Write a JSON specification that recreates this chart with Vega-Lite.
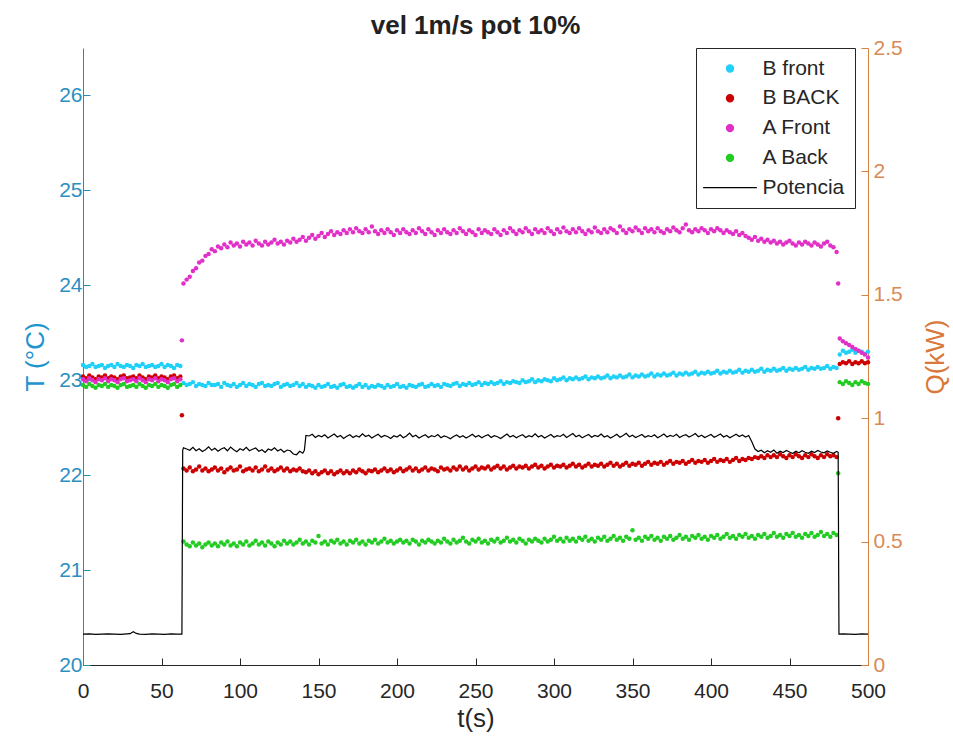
{
"$schema": "https://vega.github.io/schema/vega-lite/v6.json",
"width": 785, "height": 617,
"autosize": {"type": "none"},
"padding": {"left": 83, "top": 48, "right": 85, "bottom": 79},
"background": "white",
"title": {"text": "vel 1m/s pot 10%", "fontSize": 26, "font": "Liberation Sans", "fontWeight": "bold", "color": "#222222", "offset": -2, "anchor": "middle"},
"config": {"view": {"stroke": null}, "font": "Liberation Sans", "axis": {"grid": false}},
"datasets": {
"bf": [
{"t":0,"v":23.16},{"t":2,"v":23.14},{"t":4,"v":23.15},{"t":6,"v":23.17},{"t":8,"v":23.14},{"t":10,"v":23.15},{"t":12,"v":23.16},{"t":14,"v":23.13},{"t":16,"v":23.15},{"t":18,"v":23.16},{"t":20,"v":23.14},{"t":22,"v":23.17},{"t":24,"v":23.15},{"t":26,"v":23.14},{"t":28,"v":23.16},{"t":30,"v":23.15},{"t":32,"v":23.13},{"t":34,"v":23.16},{"t":36,"v":23.15},{"t":38,"v":23.17},{"t":40,"v":23.14},{"t":42,"v":23.15},{"t":44,"v":23.16},{"t":46,"v":23.14},{"t":48,"v":23.15},{"t":50,"v":23.17},{"t":52,"v":23.14},{"t":54,"v":23.16},{"t":56,"v":23.15},{"t":58,"v":23.13},{"t":60,"v":23.16},{"t":62,"v":23.15},
{"t":64,"v":22.97},{"t":66,"v":22.95},{"t":68,"v":22.96},{"t":70,"v":22.98},{"t":72,"v":22.94},{"t":74,"v":22.96},{"t":76,"v":22.95},{"t":78,"v":22.94},{"t":80,"v":22.97},{"t":82,"v":22.95},
{"t":84,"v":22.95},{"t":86,"v":22.96},{"t":88,"v":22.93},{"t":90,"v":22.97},{"t":92,"v":22.95},{"t":94,"v":22.94},{"t":96,"v":22.96},{"t":98,"v":22.93},{"t":100,"v":22.95},{"t":102,"v":22.97},
{"t":104,"v":22.94},{"t":106,"v":22.96},{"t":108,"v":22.95},{"t":110,"v":22.93},{"t":112,"v":22.96},{"t":114,"v":22.97},{"t":116,"v":22.94},{"t":118,"v":22.95},{"t":120,"v":22.94},{"t":122,"v":22.96},
{"t":124,"v":22.97},{"t":126,"v":22.93},{"t":128,"v":22.95},{"t":130,"v":22.96},{"t":132,"v":22.94},{"t":134,"v":22.95},{"t":136,"v":22.97},{"t":138,"v":22.94},{"t":140,"v":22.96},{"t":142,"v":22.93},
{"t":144,"v":22.95},{"t":146,"v":22.94},{"t":148,"v":22.92},{"t":150,"v":22.95},{"t":152,"v":22.93},{"t":154,"v":22.94},{"t":156,"v":22.96},{"t":158,"v":22.93},{"t":160,"v":22.94},{"t":162,"v":22.92},
{"t":164,"v":22.95},{"t":166,"v":22.96},{"t":168,"v":22.93},{"t":170,"v":22.94},{"t":172,"v":22.92},{"t":174,"v":22.94},{"t":176,"v":22.96},{"t":178,"v":22.93},{"t":180,"v":22.95},{"t":182,"v":22.92},
{"t":184,"v":22.94},{"t":186,"v":22.93},{"t":188,"v":22.95},{"t":190,"v":22.94},{"t":192,"v":22.92},{"t":194,"v":22.95},{"t":196,"v":22.93},{"t":198,"v":22.94},{"t":200,"v":22.96},{"t":202,"v":22.93},
{"t":204,"v":22.94},{"t":206,"v":22.92},{"t":208,"v":22.95},{"t":210,"v":22.94},{"t":212,"v":22.93},{"t":214,"v":22.95},{"t":216,"v":22.96},{"t":218,"v":22.93},{"t":220,"v":22.94},{"t":222,"v":22.96},
{"t":224,"v":22.94},{"t":226,"v":22.95},{"t":228,"v":22.93},{"t":230,"v":22.96},{"t":232,"v":22.95},{"t":234,"v":22.94},{"t":236,"v":22.96},{"t":238,"v":22.97},{"t":240,"v":22.94},{"t":242,"v":22.96},
{"t":244,"v":22.95},{"t":246,"v":22.97},{"t":248,"v":22.95},{"t":250,"v":22.96},{"t":252,"v":22.98},{"t":254,"v":22.95},{"t":256,"v":22.97},{"t":258,"v":22.96},{"t":260,"v":22.98},{"t":262,"v":22.96},
{"t":264,"v":22.97},{"t":266,"v":22.99},{"t":268,"v":22.96},{"t":270,"v":22.98},{"t":272,"v":22.97},{"t":274,"v":22.99},{"t":276,"v":22.98},{"t":278,"v":22.97},{"t":280,"v":23.00},{"t":282,"v":22.98},
{"t":284,"v":22.99},{"t":286,"v":23.01},{"t":288,"v":22.98},{"t":290,"v":23.00},{"t":292,"v":22.99},{"t":294,"v":23.01},{"t":296,"v":23.00},{"t":298,"v":22.99},{"t":300,"v":23.02},{"t":302,"v":23.00},
{"t":304,"v":23.01},{"t":306,"v":23.03},{"t":308,"v":23.00},{"t":310,"v":23.02},{"t":312,"v":23.01},{"t":314,"v":23.03},{"t":316,"v":23.01},{"t":318,"v":23.02},{"t":320,"v":23.04},{"t":322,"v":23.01},
{"t":324,"v":23.03},{"t":326,"v":23.02},{"t":328,"v":23.04},{"t":330,"v":23.02},{"t":332,"v":23.03},{"t":334,"v":23.05},{"t":336,"v":23.02},{"t":338,"v":23.04},{"t":340,"v":23.03},{"t":342,"v":23.05},
{"t":344,"v":23.03},{"t":346,"v":23.04},{"t":348,"v":23.06},{"t":350,"v":23.03},{"t":352,"v":23.05},{"t":354,"v":23.04},{"t":356,"v":23.06},{"t":358,"v":23.04},{"t":360,"v":23.05},{"t":362,"v":23.07},
{"t":364,"v":23.04},{"t":366,"v":23.06},{"t":368,"v":23.05},{"t":370,"v":23.07},{"t":372,"v":23.05},{"t":374,"v":23.06},{"t":376,"v":23.08},{"t":378,"v":23.05},{"t":380,"v":23.07},{"t":382,"v":23.06},
{"t":384,"v":23.08},{"t":386,"v":23.06},{"t":388,"v":23.07},{"t":390,"v":23.09},{"t":392,"v":23.06},{"t":394,"v":23.08},{"t":396,"v":23.07},{"t":398,"v":23.09},{"t":400,"v":23.07},{"t":402,"v":23.08},
{"t":404,"v":23.10},{"t":406,"v":23.07},{"t":408,"v":23.09},{"t":410,"v":23.08},{"t":412,"v":23.10},{"t":414,"v":23.08},{"t":416,"v":23.09},{"t":418,"v":23.11},{"t":420,"v":23.08},{"t":422,"v":23.10},
{"t":424,"v":23.09},{"t":426,"v":23.11},{"t":428,"v":23.09},{"t":430,"v":23.10},{"t":432,"v":23.12},{"t":434,"v":23.09},{"t":436,"v":23.11},{"t":438,"v":23.10},{"t":440,"v":23.12},{"t":442,"v":23.10},
{"t":444,"v":23.11},{"t":446,"v":23.13},{"t":448,"v":23.10},{"t":450,"v":23.12},{"t":452,"v":23.11},{"t":454,"v":23.13},{"t":456,"v":23.11},{"t":458,"v":23.12},{"t":460,"v":23.14},{"t":462,"v":23.11},
{"t":464,"v":23.13},{"t":466,"v":23.12},{"t":468,"v":23.14},{"t":470,"v":23.12},{"t":472,"v":23.13},{"t":474,"v":23.15},{"t":476,"v":23.12},{"t":478,"v":23.14},{"t":480,"v":23.13},
{"t":482,"v":23.27},{"t":484,"v":23.31},{"t":486,"v":23.29},{"t":488,"v":23.30},{"t":490,"v":23.32},{"t":492,"v":23.29},{"t":494,"v":23.31},{"t":496,"v":23.30},{"t":498,"v":23.28},{"t":500,"v":23.30}
],
"bb": [
{"t":0,"v":23.04},{"t":2,"v":23.02},{"t":4,"v":23.05},{"t":6,"v":23.03},{"t":8,"v":23.01},{"t":10,"v":23.04},{"t":12,"v":23.03},{"t":14,"v":23.05},{"t":16,"v":23.02},{"t":18,"v":23.04},{"t":20,"v":23.03},{"t":22,"v":23.01},{"t":24,"v":23.04},{"t":26,"v":23.05},{"t":28,"v":23.02},{"t":30,"v":23.03},{"t":32,"v":23.04},{"t":34,"v":23.02},{"t":36,"v":23.05},{"t":38,"v":23.03},{"t":40,"v":23.01},{"t":42,"v":23.04},{"t":44,"v":23.03},{"t":46,"v":23.05},{"t":48,"v":23.02},{"t":50,"v":23.04},{"t":52,"v":23.03},{"t":54,"v":23.01},{"t":56,"v":23.04},{"t":58,"v":23.05},{"t":60,"v":23.02},{"t":62,"v":23.04},
{"t":63,"v":22.63},
{"t":64,"v":22.07},{"t":66,"v":22.05},{"t":68,"v":22.08},{"t":70,"v":22.04},{"t":72,"v":22.06},{"t":74,"v":22.09},{"t":76,"v":22.05},{"t":78,"v":22.07},{"t":80,"v":22.04},{"t":82,"v":22.06},
{"t":84,"v":22.08},{"t":86,"v":22.05},{"t":88,"v":22.07},{"t":90,"v":22.03},{"t":92,"v":22.06},{"t":94,"v":22.08},{"t":96,"v":22.05},{"t":98,"v":22.06},{"t":100,"v":22.09},{"t":102,"v":22.04},
{"t":104,"v":22.06},{"t":106,"v":22.07},{"t":108,"v":22.05},{"t":110,"v":22.08},{"t":112,"v":22.04},{"t":114,"v":22.06},{"t":116,"v":22.09},{"t":118,"v":22.05},{"t":120,"v":22.07},{"t":122,"v":22.04},
{"t":124,"v":22.06},{"t":126,"v":22.08},{"t":128,"v":22.05},{"t":130,"v":22.07},{"t":132,"v":22.04},{"t":134,"v":22.06},{"t":136,"v":22.05},{"t":138,"v":22.07},{"t":140,"v":22.04},{"t":142,"v":22.03},
{"t":144,"v":22.05},{"t":146,"v":22.02},{"t":148,"v":22.04},{"t":150,"v":22.01},{"t":152,"v":22.03},{"t":154,"v":22.05},{"t":156,"v":22.02},{"t":158,"v":22.04},{"t":160,"v":22.01},{"t":162,"v":22.03},
{"t":164,"v":22.05},{"t":166,"v":22.02},{"t":168,"v":22.04},{"t":170,"v":22.02},{"t":172,"v":22.05},{"t":174,"v":22.03},{"t":176,"v":22.06},{"t":178,"v":22.04},{"t":180,"v":22.02},{"t":182,"v":22.05},
{"t":184,"v":22.04},{"t":186,"v":22.06},{"t":188,"v":22.03},{"t":190,"v":22.05},{"t":192,"v":22.07},{"t":194,"v":22.04},{"t":196,"v":22.06},{"t":198,"v":22.03},{"t":200,"v":22.05},{"t":202,"v":22.07},
{"t":204,"v":22.04},{"t":206,"v":22.06},{"t":208,"v":22.08},{"t":210,"v":22.05},{"t":212,"v":22.07},{"t":214,"v":22.04},{"t":216,"v":22.06},{"t":218,"v":22.08},{"t":220,"v":22.05},{"t":222,"v":22.07},
{"t":224,"v":22.06},{"t":226,"v":22.04},{"t":228,"v":22.08},{"t":230,"v":22.06},{"t":232,"v":22.07},{"t":234,"v":22.05},{"t":236,"v":22.08},{"t":238,"v":22.06},{"t":240,"v":22.09},{"t":242,"v":22.06},
{"t":244,"v":22.08},{"t":246,"v":22.05},{"t":248,"v":22.07},{"t":250,"v":22.09},{"t":252,"v":22.06},{"t":254,"v":22.08},{"t":256,"v":22.07},{"t":258,"v":22.09},{"t":260,"v":22.06},{"t":262,"v":22.08},
{"t":264,"v":22.10},{"t":266,"v":22.07},{"t":268,"v":22.09},{"t":270,"v":22.06},{"t":272,"v":22.08},{"t":274,"v":22.10},{"t":276,"v":22.07},{"t":278,"v":22.09},{"t":280,"v":22.08},{"t":282,"v":22.10},
{"t":284,"v":22.07},{"t":286,"v":22.09},{"t":288,"v":22.11},{"t":290,"v":22.08},{"t":292,"v":22.10},{"t":294,"v":22.07},{"t":296,"v":22.09},{"t":298,"v":22.11},{"t":300,"v":22.08},{"t":302,"v":22.10},
{"t":304,"v":22.09},{"t":306,"v":22.11},{"t":308,"v":22.08},{"t":310,"v":22.10},{"t":312,"v":22.12},{"t":314,"v":22.09},{"t":316,"v":22.11},{"t":318,"v":22.08},{"t":320,"v":22.10},{"t":322,"v":22.12},
{"t":324,"v":22.09},{"t":326,"v":22.11},{"t":328,"v":22.10},{"t":330,"v":22.12},{"t":332,"v":22.09},{"t":334,"v":22.11},{"t":336,"v":22.13},{"t":338,"v":22.10},{"t":340,"v":22.12},{"t":342,"v":22.09},
{"t":344,"v":22.11},{"t":346,"v":22.13},{"t":348,"v":22.10},{"t":350,"v":22.12},{"t":352,"v":22.11},{"t":354,"v":22.13},{"t":356,"v":22.10},{"t":358,"v":22.12},{"t":360,"v":22.14},{"t":362,"v":22.11},
{"t":364,"v":22.13},{"t":366,"v":22.12},{"t":368,"v":22.14},{"t":370,"v":22.11},{"t":372,"v":22.13},{"t":374,"v":22.15},{"t":376,"v":22.12},{"t":378,"v":22.14},{"t":380,"v":22.13},{"t":382,"v":22.15},
{"t":384,"v":22.12},{"t":386,"v":22.14},{"t":388,"v":22.16},{"t":390,"v":22.13},{"t":392,"v":22.15},{"t":394,"v":22.14},{"t":396,"v":22.16},{"t":398,"v":22.13},{"t":400,"v":22.15},{"t":402,"v":22.17},
{"t":404,"v":22.14},{"t":406,"v":22.16},{"t":408,"v":22.15},{"t":410,"v":22.17},{"t":412,"v":22.14},{"t":414,"v":22.16},{"t":416,"v":22.18},{"t":418,"v":22.15},{"t":420,"v":22.17},{"t":422,"v":22.16},
{"t":424,"v":22.18},{"t":426,"v":22.17},{"t":428,"v":22.19},{"t":430,"v":22.18},{"t":432,"v":22.20},{"t":434,"v":22.18},{"t":436,"v":22.21},{"t":438,"v":22.19},{"t":440,"v":22.21},{"t":442,"v":22.19},
{"t":444,"v":22.22},{"t":446,"v":22.20},{"t":448,"v":22.18},{"t":450,"v":22.21},{"t":452,"v":22.19},{"t":454,"v":22.22},{"t":456,"v":22.20},{"t":458,"v":22.18},{"t":460,"v":22.21},{"t":462,"v":22.19},
{"t":464,"v":22.22},{"t":466,"v":22.20},{"t":468,"v":22.18},{"t":470,"v":22.21},{"t":472,"v":22.19},{"t":474,"v":22.22},{"t":476,"v":22.20},{"t":478,"v":22.21},{"t":480,"v":22.19},
{"t":481,"v":22.60},
{"t":482,"v":23.17},{"t":484,"v":23.19},{"t":486,"v":23.18},{"t":488,"v":23.20},{"t":490,"v":23.17},{"t":492,"v":23.19},{"t":494,"v":23.18},{"t":496,"v":23.20},{"t":498,"v":23.18},{"t":500,"v":23.19}
],
"af": [
{"t":0,"v":23.01},{"t":2,"v":22.99},{"t":4,"v":23.02},{"t":6,"v":23.00},{"t":8,"v":22.98},{"t":10,"v":23.01},{"t":12,"v":23.00},{"t":14,"v":23.02},{"t":16,"v":22.99},{"t":18,"v":23.01},{"t":20,"v":23.00},{"t":22,"v":22.98},{"t":24,"v":23.01},{"t":26,"v":23.02},{"t":28,"v":22.99},{"t":30,"v":23.00},{"t":32,"v":23.01},{"t":34,"v":22.99},{"t":36,"v":23.02},{"t":38,"v":23.00},{"t":40,"v":22.98},{"t":42,"v":23.01},{"t":44,"v":23.00},{"t":46,"v":23.02},{"t":48,"v":22.99},{"t":50,"v":23.01},{"t":52,"v":23.00},{"t":54,"v":22.98},{"t":56,"v":23.01},{"t":58,"v":23.02},{"t":60,"v":22.99},{"t":62,"v":23.01},
{"t":63,"v":23.42},
{"t":64,"v":24.02},{"t":66,"v":24.06},{"t":68,"v":24.09},{"t":70,"v":24.15},{"t":72,"v":24.18},{"t":74,"v":24.24},{"t":76,"v":24.26},{"t":78,"v":24.31},{"t":80,"v":24.33},{"t":82,"v":24.38},
{"t":84,"v":24.36},{"t":86,"v":24.41},{"t":88,"v":24.39},{"t":90,"v":24.43},{"t":92,"v":24.40},{"t":94,"v":24.45},{"t":96,"v":24.42},{"t":98,"v":24.44},{"t":100,"v":24.41},{"t":102,"v":24.46},
{"t":104,"v":24.43},{"t":106,"v":24.45},{"t":108,"v":24.42},{"t":110,"v":24.47},{"t":112,"v":24.44},{"t":114,"v":24.42},{"t":116,"v":24.46},{"t":118,"v":24.43},{"t":120,"v":24.45},{"t":122,"v":24.48},
{"t":124,"v":24.44},{"t":126,"v":24.46},{"t":128,"v":24.43},{"t":130,"v":24.47},{"t":132,"v":24.45},{"t":134,"v":24.49},{"t":136,"v":24.46},{"t":138,"v":24.48},{"t":140,"v":24.51},{"t":142,"v":24.47},
{"t":144,"v":24.50},{"t":146,"v":24.53},{"t":148,"v":24.49},{"t":150,"v":24.52},{"t":152,"v":24.55},{"t":154,"v":24.51},{"t":156,"v":24.54},{"t":158,"v":24.57},{"t":160,"v":24.53},{"t":162,"v":24.56},
{"t":164,"v":24.54},{"t":166,"v":24.58},{"t":168,"v":24.55},{"t":170,"v":24.59},{"t":172,"v":24.56},{"t":174,"v":24.60},{"t":176,"v":24.57},{"t":178,"v":24.55},{"t":180,"v":24.59},{"t":182,"v":24.56},
{"t":184,"v":24.62},{"t":186,"v":24.57},{"t":188,"v":24.54},{"t":190,"v":24.58},{"t":192,"v":24.55},{"t":194,"v":24.59},{"t":196,"v":24.56},{"t":198,"v":24.53},{"t":200,"v":24.58},{"t":202,"v":24.55},
{"t":204,"v":24.59},{"t":206,"v":24.56},{"t":208,"v":24.54},{"t":210,"v":24.58},{"t":212,"v":24.55},{"t":214,"v":24.60},{"t":216,"v":24.57},{"t":218,"v":24.54},{"t":220,"v":24.59},{"t":222,"v":24.56},
{"t":224,"v":24.53},{"t":226,"v":24.58},{"t":228,"v":24.55},{"t":230,"v":24.59},{"t":232,"v":24.56},{"t":234,"v":24.54},{"t":236,"v":24.58},{"t":238,"v":24.55},{"t":240,"v":24.60},{"t":242,"v":24.57},
{"t":244,"v":24.54},{"t":246,"v":24.58},{"t":248,"v":24.56},{"t":250,"v":24.53},{"t":252,"v":24.59},{"t":254,"v":24.55},{"t":256,"v":24.58},{"t":258,"v":24.56},{"t":260,"v":24.54},{"t":262,"v":24.59},
{"t":264,"v":24.56},{"t":266,"v":24.53},{"t":268,"v":24.58},{"t":270,"v":24.55},{"t":272,"v":24.60},{"t":274,"v":24.57},{"t":276,"v":24.54},{"t":278,"v":24.58},{"t":280,"v":24.56},{"t":282,"v":24.60},
{"t":284,"v":24.57},{"t":286,"v":24.54},{"t":288,"v":24.59},{"t":290,"v":24.56},{"t":292,"v":24.58},{"t":294,"v":24.55},{"t":296,"v":24.60},{"t":298,"v":24.57},{"t":300,"v":24.54},{"t":302,"v":24.59},
{"t":304,"v":24.56},{"t":306,"v":24.61},{"t":308,"v":24.57},{"t":310,"v":24.55},{"t":312,"v":24.59},{"t":314,"v":24.56},{"t":316,"v":24.60},{"t":318,"v":24.57},{"t":320,"v":24.54},{"t":322,"v":24.58},
{"t":324,"v":24.56},{"t":326,"v":24.61},{"t":328,"v":24.57},{"t":330,"v":24.55},{"t":332,"v":24.59},{"t":334,"v":24.56},{"t":336,"v":24.60},{"t":338,"v":24.58},{"t":340,"v":24.55},{"t":342,"v":24.62},
{"t":344,"v":24.58},{"t":346,"v":24.55},{"t":348,"v":24.59},{"t":350,"v":24.57},{"t":352,"v":24.61},{"t":354,"v":24.58},{"t":356,"v":24.55},{"t":358,"v":24.60},{"t":360,"v":24.57},{"t":362,"v":24.59},
{"t":364,"v":24.56},{"t":366,"v":24.60},{"t":368,"v":24.57},{"t":370,"v":24.55},{"t":372,"v":24.59},{"t":374,"v":24.57},{"t":376,"v":24.61},{"t":378,"v":24.58},{"t":380,"v":24.56},{"t":382,"v":24.60},
{"t":384,"v":24.64},{"t":386,"v":24.58},{"t":388,"v":24.56},{"t":390,"v":24.59},{"t":392,"v":24.57},{"t":394,"v":24.60},{"t":396,"v":24.58},{"t":398,"v":24.55},{"t":400,"v":24.59},{"t":402,"v":24.57},
{"t":404,"v":24.60},{"t":406,"v":24.58},{"t":408,"v":24.55},{"t":410,"v":24.58},{"t":412,"v":24.56},{"t":414,"v":24.54},{"t":416,"v":24.57},{"t":418,"v":24.53},{"t":420,"v":24.55},{"t":422,"v":24.52},
{"t":424,"v":24.50},{"t":426,"v":24.48},{"t":428,"v":24.51},{"t":430,"v":24.47},{"t":432,"v":24.49},{"t":434,"v":24.46},{"t":436,"v":24.48},{"t":438,"v":24.45},{"t":440,"v":24.47},{"t":442,"v":24.44},
{"t":444,"v":24.46},{"t":446,"v":24.43},{"t":448,"v":24.45},{"t":450,"v":24.47},{"t":452,"v":24.44},{"t":454,"v":24.42},{"t":456,"v":24.45},{"t":458,"v":24.43},{"t":460,"v":24.46},{"t":462,"v":24.44},
{"t":464,"v":24.42},{"t":466,"v":24.45},{"t":468,"v":24.43},{"t":470,"v":24.41},{"t":472,"v":24.44},{"t":474,"v":24.46},{"t":476,"v":24.42},{"t":478,"v":24.40},{"t":480,"v":24.35},
{"t":481,"v":24.02},
{"t":482,"v":23.44},{"t":484,"v":23.41},{"t":486,"v":23.39},{"t":488,"v":23.37},{"t":490,"v":23.35},{"t":492,"v":23.33},{"t":494,"v":23.31},{"t":496,"v":23.29},{"t":498,"v":23.27},{"t":500,"v":23.24}
],
"ab": [
{"t":0,"v":22.95},{"t":2,"v":22.93},{"t":4,"v":22.96},{"t":6,"v":22.94},{"t":8,"v":22.92},{"t":10,"v":22.95},{"t":12,"v":22.94},{"t":14,"v":22.96},{"t":16,"v":22.93},{"t":18,"v":22.95},{"t":20,"v":22.94},{"t":22,"v":22.92},{"t":24,"v":22.95},{"t":26,"v":22.96},{"t":28,"v":22.93},{"t":30,"v":22.94},{"t":32,"v":22.95},{"t":34,"v":22.93},{"t":36,"v":22.96},{"t":38,"v":22.94},{"t":40,"v":22.92},{"t":42,"v":22.95},{"t":44,"v":22.94},{"t":46,"v":22.96},{"t":48,"v":22.93},{"t":50,"v":22.95},{"t":52,"v":22.94},{"t":54,"v":22.92},{"t":56,"v":22.95},{"t":58,"v":22.96},{"t":60,"v":22.93},{"t":62,"v":22.95},
{"t":64,"v":21.30},{"t":66,"v":21.27},{"t":68,"v":21.25},{"t":70,"v":21.29},{"t":72,"v":21.26},{"t":74,"v":21.28},{"t":76,"v":21.24},{"t":78,"v":21.27},{"t":80,"v":21.29},{"t":82,"v":21.26},
{"t":84,"v":21.28},{"t":86,"v":21.25},{"t":88,"v":21.29},{"t":90,"v":21.27},{"t":92,"v":21.30},{"t":94,"v":21.26},{"t":96,"v":21.28},{"t":98,"v":21.25},{"t":100,"v":21.29},{"t":102,"v":21.27},
{"t":104,"v":21.30},{"t":106,"v":21.26},{"t":108,"v":21.28},{"t":110,"v":21.31},{"t":112,"v":21.27},{"t":114,"v":21.29},{"t":116,"v":21.26},{"t":118,"v":21.30},{"t":120,"v":21.28},{"t":122,"v":21.25},
{"t":124,"v":21.29},{"t":126,"v":21.27},{"t":128,"v":21.31},{"t":130,"v":21.28},{"t":132,"v":21.30},{"t":134,"v":21.27},{"t":136,"v":21.29},{"t":138,"v":21.32},{"t":140,"v":21.28},{"t":142,"v":21.30},
{"t":144,"v":21.27},{"t":146,"v":21.31},{"t":148,"v":21.29},{"t":150,"v":21.36},{"t":152,"v":21.28},{"t":154,"v":21.30},{"t":156,"v":21.27},{"t":158,"v":21.31},{"t":160,"v":21.29},{"t":162,"v":21.32},
{"t":164,"v":21.28},{"t":166,"v":21.30},{"t":168,"v":21.27},{"t":170,"v":21.31},{"t":172,"v":21.29},{"t":174,"v":21.32},{"t":176,"v":21.28},{"t":178,"v":21.30},{"t":180,"v":21.27},{"t":182,"v":21.31},
{"t":184,"v":21.29},{"t":186,"v":21.32},{"t":188,"v":21.28},{"t":190,"v":21.30},{"t":192,"v":21.33},{"t":194,"v":21.29},{"t":196,"v":21.31},{"t":198,"v":21.28},{"t":200,"v":21.30},{"t":202,"v":21.32},
{"t":204,"v":21.29},{"t":206,"v":21.31},{"t":208,"v":21.28},{"t":210,"v":21.32},{"t":212,"v":21.30},{"t":214,"v":21.27},{"t":216,"v":21.31},{"t":218,"v":21.29},{"t":220,"v":21.32},{"t":222,"v":21.30},
{"t":224,"v":21.28},{"t":226,"v":21.31},{"t":228,"v":21.29},{"t":230,"v":21.33},{"t":232,"v":21.30},{"t":234,"v":21.28},{"t":236,"v":21.32},{"t":238,"v":21.29},{"t":240,"v":21.31},{"t":242,"v":21.34},
{"t":244,"v":21.30},{"t":246,"v":21.28},{"t":248,"v":21.32},{"t":250,"v":21.30},{"t":252,"v":21.33},{"t":254,"v":21.29},{"t":256,"v":21.31},{"t":258,"v":21.28},{"t":260,"v":21.32},{"t":262,"v":21.30},
{"t":264,"v":21.33},{"t":266,"v":21.29},{"t":268,"v":21.31},{"t":270,"v":21.34},{"t":272,"v":21.30},{"t":274,"v":21.32},{"t":276,"v":21.29},{"t":278,"v":21.33},{"t":280,"v":21.31},{"t":282,"v":21.28},
{"t":284,"v":21.32},{"t":286,"v":21.30},{"t":288,"v":21.33},{"t":290,"v":21.31},{"t":292,"v":21.29},{"t":294,"v":21.33},{"t":296,"v":21.30},{"t":298,"v":21.32},{"t":300,"v":21.35},{"t":302,"v":21.31},
{"t":304,"v":21.33},{"t":306,"v":21.30},{"t":308,"v":21.34},{"t":310,"v":21.31},{"t":312,"v":21.33},{"t":314,"v":21.30},{"t":316,"v":21.34},{"t":318,"v":21.32},{"t":320,"v":21.35},{"t":322,"v":21.31},
{"t":324,"v":21.33},{"t":326,"v":21.30},{"t":328,"v":21.34},{"t":330,"v":21.32},{"t":332,"v":21.35},{"t":334,"v":21.31},{"t":336,"v":21.33},{"t":338,"v":21.36},{"t":340,"v":21.32},{"t":342,"v":21.34},
{"t":344,"v":21.31},{"t":346,"v":21.35},{"t":348,"v":21.33},{"t":350,"v":21.42},{"t":352,"v":21.32},{"t":354,"v":21.34},{"t":356,"v":21.31},{"t":358,"v":21.35},{"t":360,"v":21.33},{"t":362,"v":21.36},
{"t":364,"v":21.32},{"t":366,"v":21.34},{"t":368,"v":21.31},{"t":370,"v":21.35},{"t":372,"v":21.33},{"t":374,"v":21.36},{"t":376,"v":21.32},{"t":378,"v":21.34},{"t":380,"v":21.37},{"t":382,"v":21.33},
{"t":384,"v":21.35},{"t":386,"v":21.32},{"t":388,"v":21.36},{"t":390,"v":21.34},{"t":392,"v":21.37},{"t":394,"v":21.33},{"t":396,"v":21.35},{"t":398,"v":21.32},{"t":400,"v":21.36},{"t":402,"v":21.34},
{"t":404,"v":21.37},{"t":406,"v":21.33},{"t":408,"v":21.35},{"t":410,"v":21.38},{"t":412,"v":21.34},{"t":414,"v":21.36},{"t":416,"v":21.33},{"t":418,"v":21.37},{"t":420,"v":21.35},{"t":422,"v":21.38},
{"t":424,"v":21.34},{"t":426,"v":21.36},{"t":428,"v":21.33},{"t":430,"v":21.37},{"t":432,"v":21.35},{"t":434,"v":21.38},{"t":436,"v":21.34},{"t":438,"v":21.36},{"t":440,"v":21.39},{"t":442,"v":21.35},
{"t":444,"v":21.37},{"t":446,"v":21.34},{"t":448,"v":21.38},{"t":450,"v":21.36},{"t":452,"v":21.39},{"t":454,"v":21.35},{"t":456,"v":21.37},{"t":458,"v":21.34},{"t":460,"v":21.38},{"t":462,"v":21.36},
{"t":464,"v":21.39},{"t":466,"v":21.35},{"t":468,"v":21.37},{"t":470,"v":21.40},{"t":472,"v":21.36},{"t":474,"v":21.38},{"t":476,"v":21.35},{"t":478,"v":21.39},{"t":480,"v":21.37},
{"t":481,"v":22.02},
{"t":482,"v":22.98},{"t":484,"v":22.96},{"t":486,"v":22.99},{"t":488,"v":22.97},{"t":490,"v":22.95},{"t":492,"v":22.98},{"t":494,"v":22.96},{"t":496,"v":22.99},{"t":498,"v":22.97},{"t":500,"v":22.96}
],
"pw": [
{"t":0,"q":0.125},{"t":4,"q":0.126},{"t":8,"q":0.124},{"t":12,"q":0.125},{"t":16,"q":0.126},{"t":20,"q":0.125},{"t":24,"q":0.124},{"t":28,"q":0.126},{"t":30,"q":0.127},{"t":32,"q":0.135},{"t":34,"q":0.128},{"t":36,"q":0.125},{"t":40,"q":0.124},{"t":44,"q":0.126},{"t":48,"q":0.125},{"t":52,"q":0.124},{"t":56,"q":0.126},{"t":60,"q":0.125},{"t":63,"q":0.125},{"t":63.5,"q":0.87},
{"t":64,"q":0.88},{"t":66,"q":0.875},{"t":68,"q":0.87},{"t":70,"q":0.882},{"t":72,"q":0.868},{"t":74,"q":0.876},{"t":76,"q":0.865},{"t":78,"q":0.872},{"t":80,"q":0.884},{"t":82,"q":0.87},{"t":84,"q":0.878},{"t":86,"q":0.866},{"t":88,"q":0.875},{"t":90,"q":0.88},{"t":92,"q":0.868},{"t":94,"q":0.883},{"t":96,"q":0.872},{"t":98,"q":0.864},{"t":100,"q":0.876},{"t":102,"q":0.87},{"t":104,"q":0.882},{"t":106,"q":0.868},{"t":108,"q":0.874},{"t":110,"q":0.879},{"t":112,"q":0.866},{"t":114,"q":0.872},{"t":116,"q":0.861},{"t":118,"q":0.875},{"t":120,"q":0.87},{"t":122,"q":0.88},{"t":124,"q":0.867},{"t":126,"q":0.874},{"t":128,"q":0.862},{"t":130,"q":0.871},{"t":132,"q":0.868},{"t":134,"q":0.855},{"t":136,"q":0.852},{"t":138,"q":0.866},{"t":140,"q":0.858},{"t":141,"q":0.87},{"t":142,"q":0.93},
{"t":144,"q":0.928},{"t":146,"q":0.935},{"t":148,"q":0.922},{"t":150,"q":0.93},{"t":152,"q":0.925},{"t":154,"q":0.933},{"t":156,"q":0.92},{"t":158,"q":0.928},{"t":160,"q":0.936},{"t":162,"q":0.924},{"t":164,"q":0.93},{"t":166,"q":0.918},{"t":168,"q":0.927},{"t":170,"q":0.933},{"t":172,"q":0.922},{"t":174,"q":0.929},{"t":176,"q":0.924},{"t":178,"q":0.937},{"t":180,"q":0.926},{"t":182,"q":0.931},{"t":184,"q":0.92},{"t":186,"q":0.928},{"t":188,"q":0.935},{"t":190,"q":0.923},{"t":192,"q":0.93},{"t":194,"q":0.926},{"t":196,"q":0.918},{"t":198,"q":0.929},{"t":200,"q":0.924},{"t":202,"q":0.933},{"t":204,"q":0.921},{"t":206,"q":0.928},{"t":208,"q":0.94},{"t":210,"q":0.925},{"t":212,"q":0.931},{"t":214,"q":0.92},{"t":216,"q":0.927},{"t":218,"q":0.933},{"t":220,"q":0.922},{"t":222,"q":0.929},{"t":224,"q":0.925},{"t":226,"q":0.934},{"t":228,"q":0.921},{"t":230,"q":0.928},{"t":232,"q":0.924},{"t":234,"q":0.917},{"t":236,"q":0.926},{"t":238,"q":0.932},{"t":240,"q":0.923},{"t":242,"q":0.929},{"t":244,"q":0.92},{"t":246,"q":0.927},{"t":248,"q":0.935},{"t":250,"q":0.924},{"t":252,"q":0.93},{"t":254,"q":0.921},{"t":256,"q":0.928},{"t":258,"q":0.933},{"t":260,"q":0.922},{"t":262,"q":0.929},{"t":264,"q":0.925},{"t":266,"q":0.918},{"t":268,"q":0.927},{"t":270,"q":0.936},{"t":272,"q":0.924},{"t":274,"q":0.93},{"t":276,"q":0.921},{"t":278,"q":0.928},{"t":280,"q":0.933},{"t":282,"q":0.922},{"t":284,"q":0.929},{"t":286,"q":0.925},{"t":288,"q":0.937},{"t":290,"q":0.924},{"t":292,"q":0.93},{"t":294,"q":0.92},{"t":296,"q":0.927},{"t":298,"q":0.934},{"t":300,"q":0.923},{"t":302,"q":0.929},{"t":304,"q":0.926},{"t":306,"q":0.935},{"t":308,"q":0.922},{"t":310,"q":0.93},{"t":312,"q":0.938},{"t":314,"q":0.925},{"t":316,"q":0.931},{"t":318,"q":0.921},{"t":320,"q":0.928},{"t":322,"q":0.934},{"t":324,"q":0.923},{"t":326,"q":0.93},{"t":328,"q":0.926},{"t":330,"q":0.936},{"t":332,"q":0.924},{"t":334,"q":0.929},{"t":336,"q":0.92},{"t":338,"q":0.927},{"t":340,"q":0.935},{"t":342,"q":0.923},{"t":344,"q":0.93},{"t":346,"q":0.939},{"t":348,"q":0.925},{"t":350,"q":0.931},{"t":352,"q":0.922},{"t":354,"q":0.928},{"t":356,"q":0.934},{"t":358,"q":0.923},{"t":360,"q":0.929},{"t":362,"q":0.925},{"t":364,"q":0.933},{"t":366,"q":0.921},{"t":368,"q":0.928},{"t":370,"q":0.936},{"t":372,"q":0.924},{"t":374,"q":0.93},{"t":376,"q":0.926},{"t":378,"q":0.935},{"t":380,"q":0.922},{"t":382,"q":0.929},{"t":384,"q":0.933},{"t":386,"q":0.924},{"t":388,"q":0.93},{"t":390,"q":0.938},{"t":392,"q":0.925},{"t":394,"q":0.931},{"t":396,"q":0.922},{"t":398,"q":0.928},{"t":400,"q":0.934},{"t":402,"q":0.923},{"t":404,"q":0.929},{"t":406,"q":0.936},{"t":408,"q":0.924},{"t":410,"q":0.93},{"t":412,"q":0.921},{"t":414,"q":0.928},{"t":416,"q":0.935},{"t":418,"q":0.926},{"t":420,"q":0.932},{"t":422,"q":0.924},{"t":424,"q":0.93},{"t":426,"q":0.905},{"t":428,"q":0.875},
{"t":430,"q":0.865},{"t":432,"q":0.87},{"t":434,"q":0.86},{"t":436,"q":0.868},{"t":438,"q":0.862},{"t":440,"q":0.871},{"t":442,"q":0.858},{"t":444,"q":0.866},{"t":446,"q":0.861},{"t":448,"q":0.869},{"t":450,"q":0.863},{"t":452,"q":0.857},{"t":454,"q":0.866},{"t":456,"q":0.86},{"t":458,"q":0.868},{"t":460,"q":0.862},{"t":462,"q":0.858},{"t":464,"q":0.866},{"t":466,"q":0.861},{"t":468,"q":0.869},{"t":470,"q":0.863},{"t":472,"q":0.86},{"t":474,"q":0.867},{"t":476,"q":0.862},{"t":478,"q":0.858},{"t":480,"q":0.865},{"t":481,"q":0.862},{"t":481.5,"q":0.125},{"t":484,"q":0.126},{"t":488,"q":0.125},{"t":492,"q":0.124},{"t":496,"q":0.126},{"t":500,"q":0.125}
]
},
"layer": [
{
"layer": [
{"data": {"name": "bf"}, "mark": {"type": "circle", "size": 20, "opacity": 1},
"encoding": {
"x": {"field": "t", "type": "quantitative", "scale": {"domain": [0, 500], "nice": false, "zero": false},
"axis": {"title": "t(s)", "values": [0,50,100,150,200,250,300,350,400,450,500], "domainColor": "#262626", "tickColor": "#262626", "labelColor": "#262626", "titleColor": "#262626", "tickSize": -7, "labelPadding": 22, "labelFontSize": 21, "titleFontSize": 26, "titleFontWeight": "normal", "titlePadding": 4, "labelFlush": false}},
"y": {"field": "v", "type": "quantitative", "scale": {"domain": [20, 26.5], "nice": false, "zero": false},
"axis": {"title": "T (°C)", "orient": "left", "values": [20,21,22,23,24,25,26], "format": "d", "domainColor": "#2a8ab0", "tickColor": "#2a8ab0", "labelColor": "#2b8fc0", "titleColor": "#1f95cf", "tickSize": -7, "labelPadding": 8, "labelFontSize": 21, "titleFontSize": 26, "titleFontWeight": "normal", "titlePadding": 10, "labelFlush": false}},
"color": {"datum": "B front", "type": "nominal",
"scale": {"domain": ["B front", "B BACK", "A Front", "A Back", "Potencia"], "range": ["#1fd0f8", "#cc0000", "#e22fc8", "#22cc22", "#000000"]},
"legend": {"orient": "none", "legendX": 613, "legendY": 0, "title": null, "strokeColor": "#262626", "fillColor": "white", "padding": 10, "labelFontSize": 21, "labelColor": "#262626", "symbolSize": 50, "symbolOffset": 13.5, "labelOffset": 22, "rowPadding": 7.8,
"symbolType": {"expr": "datum.value === 'Potencia' ? 'M-7.6,0H7.6' : 'circle'"},
"symbolStrokeColor": {"expr": "datum.value === 'Potencia' ? '#000000' : 'transparent'"},
"symbolStrokeWidth": 1.3}}
}},
{"data": {"name": "bb"}, "mark": {"type": "circle", "size": 20, "opacity": 1},
"encoding": {"x": {"field": "t", "type": "quantitative"}, "y": {"field": "v", "type": "quantitative"}, "color": {"datum": "B BACK", "type": "nominal"}}},
{"data": {"name": "af"}, "mark": {"type": "circle", "size": 20, "opacity": 1},
"encoding": {"x": {"field": "t", "type": "quantitative"}, "y": {"field": "v", "type": "quantitative"}, "color": {"datum": "A Front", "type": "nominal"}}},
{"data": {"name": "ab"}, "mark": {"type": "circle", "size": 20, "opacity": 1},
"encoding": {"x": {"field": "t", "type": "quantitative"}, "y": {"field": "v", "type": "quantitative"}, "color": {"datum": "A Back", "type": "nominal"}}}
]
},
{"data": {"name": "pw"}, "mark": {"type": "line", "strokeWidth": 1.2},
"encoding": {
"x": {"field": "t", "type": "quantitative"},
"y": {"field": "q", "type": "quantitative", "scale": {"domain": [0, 2.5], "nice": false, "zero": false},
"axis": {"title": "Q(kW)", "orient": "right", "values": [0, 0.5, 1, 1.5, 2, 2.5], "format": "~g", "domainColor": "#d9823f", "tickColor": "#d9823f", "labelColor": "#d98a55", "titleColor": "#d9783a", "tickSize": -7, "labelPadding": 12, "labelFontSize": 21, "titleFontSize": 26, "titleFontWeight": "normal", "titlePadding": 20, "titleAngle": 270, "titleBaseline": "top", "labelFlush": false}},
"color": {"datum": "Potencia", "type": "nominal"}}}
],
"resolve": {"scale": {"y": "independent"}}
}
